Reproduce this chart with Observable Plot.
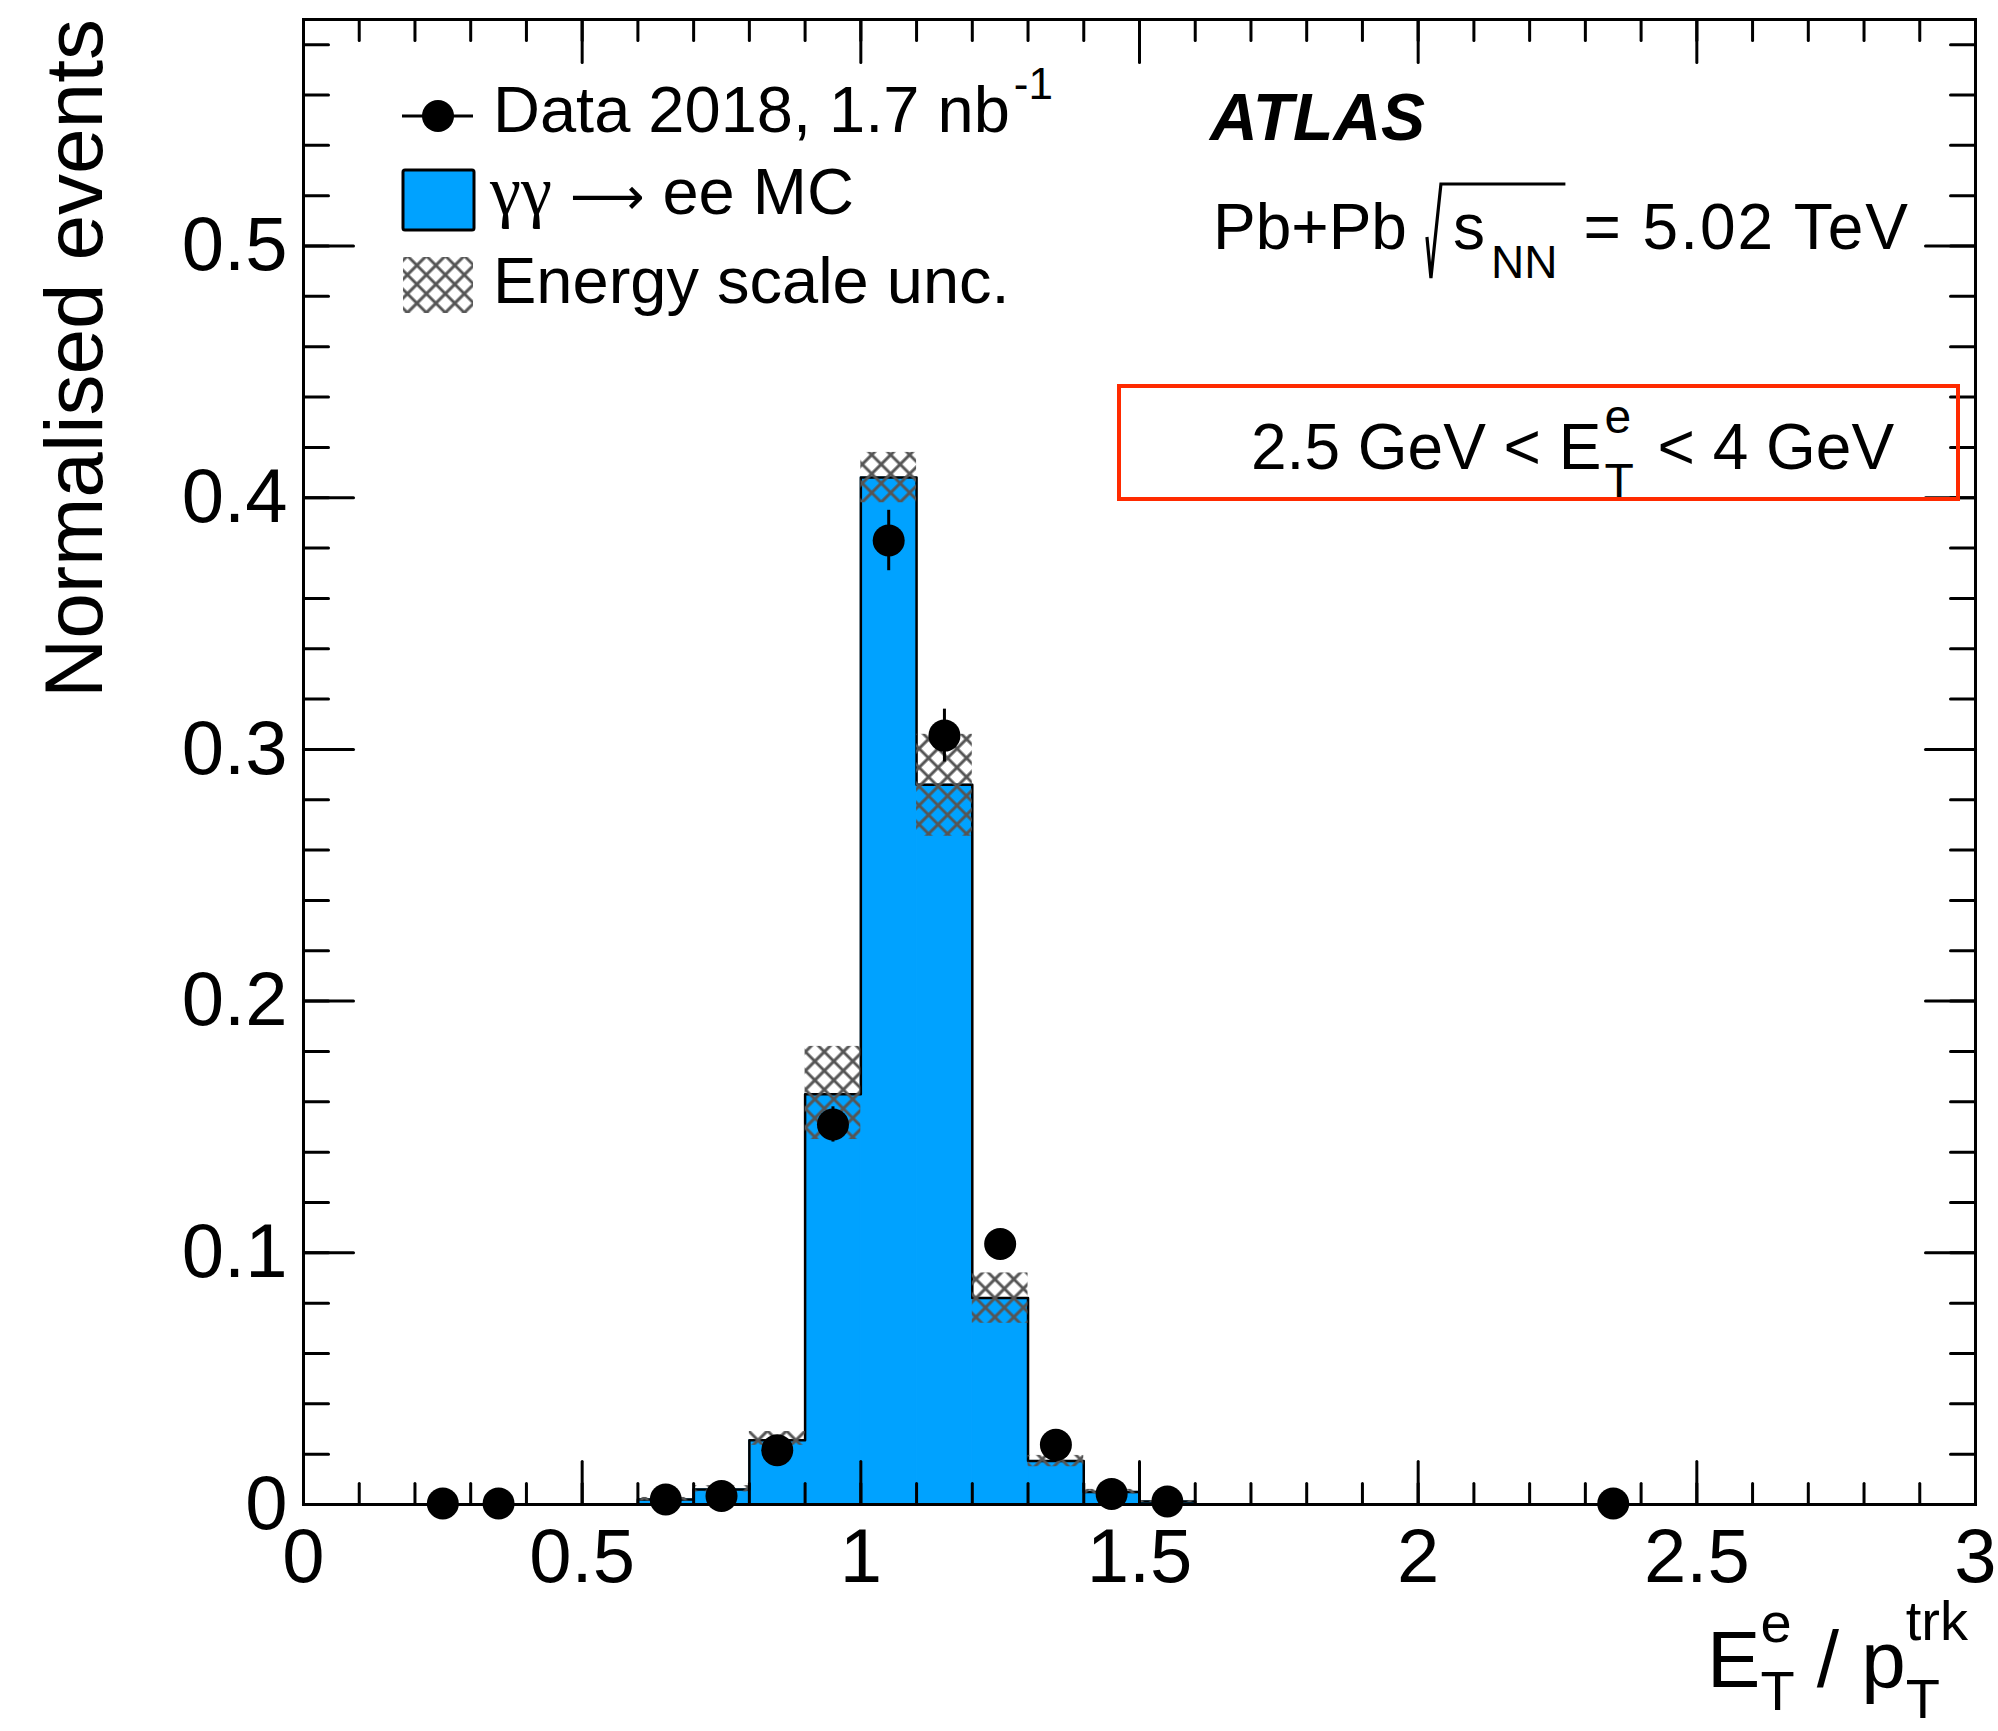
<!DOCTYPE html>
<html>
<head>
<meta charset="utf-8">
<script src="https://cdn.jsdelivr.net/npm/d3@7"></script>
<script src="https://cdn.jsdelivr.net/npm/@observablehq/plot@0.6"></script>
<style>
  html, body { margin: 0; padding: 0; background: #fff; }
  svg { display: block; }
  .ann text { white-space: pre; }
</style>
</head>
<body>
<script>
// ---------------- data ----------------
const binLow    = [0.6, 0.7, 0.8, 0.9, 1.0, 1.1, 1.2, 1.3, 1.4, 1.5];
const binWidth  = 0.1;
const mcValues  = [0.002, 0.006, 0.0255, 0.163, 0.408, 0.286, 0.082, 0.0173, 0.005, 0.0012];
const uncLow    = [0.0014, 0.005, 0.0235, 0.145, 0.398, 0.2655, 0.072, 0.015, 0.0042, 0.0008];
const uncHigh   = [0.0028, 0.0075, 0.029, 0.182, 0.418, 0.306, 0.092, 0.0195, 0.006, 0.0016];

const dataX   = [0.25, 0.35, 0.65, 0.75, 0.85, 0.95, 1.05, 1.15, 1.25, 1.35, 1.45, 1.55, 2.35];
const dataY   = [0.0004, 0.0004, 0.002, 0.0034, 0.0216, 0.151, 0.383, 0.3055, 0.1035, 0.0237, 0.0042, 0.0012, 0.0004];
const dataErr = [0.0004, 0.0004, 0.001, 0.0015, 0.003, 0.007, 0.012, 0.0105, 0.0055, 0.0025, 0.001, 0.0006, 0.0004];

const xMajorTicks = [0, 0.5, 1, 1.5, 2, 2.5, 3];
const xTickLabels = ["0", "0.5", "1", "1.5", "2", "2.5", "3"];
const yMajorTicks = [0, 0.1, 0.2, 0.3, 0.4, 0.5];
const yTickLabels = ["0", "0.1", "0.2", "0.3", "0.4", "0.5"];
const xMinorTicks = d3.range(0.1, 2.95, 0.1);
const yMinorTicks = d3.range(0.02, 0.589, 0.02);

const blue = "#00a2ff";
const font = "'Liberation Sans', Arial, Helvetica, sans-serif";
const serif = "'Liberation Serif', 'Times New Roman', serif";

// ---------------- tables built from the arrays ----------------
const mcTable = binLow.map((lo, i) => ({lo, hi: lo + binWidth, v: mcValues[i], uLo: uncLow[i], uHi: uncHigh[i]}));
const outline = [{x: 0, y: 0}, {x: binLow[0], y: 0}];
mcTable.forEach(d => { outline.push({x: d.lo, y: d.v}, {x: d.hi, y: d.v}); });
outline.push({x: mcTable[mcTable.length - 1].hi, y: 0}, {x: 3, y: 0});
const dataTable = dataX.map((x, i) => ({x, y: dataY[i], e: dataErr[i]}));

const tickShape = {draw(ctx, l) { ctx.moveTo(0, 0); ctx.lineTo(0, -l); }};
const tickOpts = {anchor: "start", shape: tickShape, stroke: "black", strokeWidth: 3};

const chart = Plot.plot({
  width: 1998,
  height: 1731,
  marginLeft: 303,
  marginRight: 23,
  marginTop: 19,
  marginBottom: 227,
  style: {fontFamily: font, background: "#fff", color: "black"},
  x: {domain: [0, 3], axis: null},
  y: {domain: [0, 0.59], axis: null},
  marks: [
    Plot.rect(mcTable, {x1: "lo", x2: "hi", y1: 0, y2: "v", fill: blue, stroke: blue, strokeWidth: 1}),
    Plot.line(outline, {x: "x", y: "y", stroke: "black", strokeWidth: 2.5}),
    Plot.rect(mcTable, {x1: "lo", x2: "hi", y1: "uLo", y2: "uHi", fill: "url(#hatch)"}),
    Plot.frame({stroke: "black", strokeWidth: 3}),
    // ticks, all four sides, pointing inward
    Plot.vector(yMajorTicks, {y: d => d, frameAnchor: "left", rotate: 90, length: 50, ...tickOpts}),
    Plot.vector(yMinorTicks, {y: d => d, frameAnchor: "left", rotate: 90, length: 25, ...tickOpts}),
    Plot.vector(yMajorTicks, {y: d => d, frameAnchor: "right", rotate: -90, length: 50, ...tickOpts}),
    Plot.vector(yMinorTicks, {y: d => d, frameAnchor: "right", rotate: -90, length: 25, ...tickOpts}),
    Plot.vector(xMajorTicks, {x: d => d, frameAnchor: "bottom", rotate: 0, length: 43, ...tickOpts}),
    Plot.vector(xMinorTicks, {x: d => d, frameAnchor: "bottom", rotate: 0, length: 21, ...tickOpts}),
    Plot.vector(xMajorTicks, {x: d => d, frameAnchor: "top", rotate: 180, length: 43, ...tickOpts}),
    Plot.vector(xMinorTicks, {x: d => d, frameAnchor: "top", rotate: 180, length: 21, ...tickOpts}),
    // tick labels
    Plot.text(yMajorTicks, {y: d => d, text: (d, i) => yTickLabels[i], frameAnchor: "left", textAnchor: "end", dx: -16, fontSize: 76}),
    Plot.text(xMajorTicks, {x: d => d, text: (d, i) => xTickLabels[i], frameAnchor: "bottom", lineAnchor: "middle", dy: 53, fontSize: 76}),
    // data
    Plot.ruleX(dataTable, {x: "x", y1: d => d.y - d.e, y2: d => d.y + d.e, stroke: "black", strokeWidth: 3}),
    Plot.dot(dataTable, {x: "x", y: "y", r: 16, fill: "black", stroke: "none"})
  ]
});
document.body.append(chart);

// ---------------- defs: hatch pattern ----------------
const svg = d3.select(chart);
const defs = svg.insert("defs", ":first-child");
const pat = defs.append("pattern")
  .attr("id", "hatch")
  .attr("patternUnits", "userSpaceOnUse")
  .attr("width", 13.4).attr("height", 13.4)
  .attr("patternTransform", "rotate(45)");
pat.append("path").attr("d", "M0,0H13.4M0,13.4H13.4").attr("stroke", "#555").attr("stroke-width", 3);
pat.append("path").attr("d", "M0,0V13.4M13.4,0V13.4").attr("stroke", "#555").attr("stroke-width", 3);

// ---------------- rich text helper ----------------
function richText(parent, x, y, segs, base, anchor) {
  const g = parent.append("g");
  let cursor = 0, prevStart = 0, prevW = 0;
  for (const s of segs) {
    if (s.gap !== undefined) { cursor += s.gap; continue; }
    const t = g.append("text")
      .attr("xml:space", "preserve")
      .attr("text-anchor", "start")
      .attr("y", y + (s.dy || 0))
      .attr("font-size", s.size || base)
      .attr("font-family", s.family || font)
      .attr("fill", "black")
      .text(s.t);
    if (s.weight) t.attr("font-weight", s.weight);
    if (s.style) t.attr("font-style", s.style);
    if (s.spacing) t.attr("letter-spacing", s.spacing);
    const start = s.stack ? prevStart : cursor;
    t.attr("x", x + start);
    const w = t.node().getComputedTextLength();
    s.start = start; s.w = w; s.node = t.node();
    if (s.stack) cursor = prevStart + Math.max(prevW, w);
    else { prevStart = start; prevW = w; cursor = start + w; }
  }
  if (anchor === "end") g.attr("transform", `translate(${-cursor},0)`);
  return {g, width: cursor, segs};
}

const ann = svg.append("g").attr("class", "ann").attr("text-anchor", "start");

// y-axis title
ann.append("text")
  .attr("transform", "translate(102,19) rotate(-90)")
  .attr("text-anchor", "end")
  .attr("font-size", 82)
  .attr("font-family", font)
  .text("Normalised events");

// x-axis title
richText(ann, 1968, 1687, [
  {t: "E"},
  {t: "e", size: 56, dy: -45},
  {t: "T", size: 56, dy: 23, stack: true},
  {t: " / "},
  {t: "p"},
  {t: "trk", size: 56, dy: -47},
  {t: "T", size: 56, dy: 31, stack: true}
], 80, "end");

// legend
ann.append("line").attr("x1", 402).attr("x2", 473).attr("y1", 116).attr("y2", 116).attr("stroke", "black").attr("stroke-width", 3);
ann.append("circle").attr("cx", 438).attr("cy", 116).attr("r", 16).attr("fill", "black");
richText(ann, 493, 132, [
  {t: "Data 2018, 1.7 nb"},
  {gap: 4},
  {t: "-1", size: 44, dy: -33}
], 65);

ann.append("rect").attr("x", 403).attr("y", 170).attr("width", 71).attr("height", 60).attr("rx", 2)
  .attr("fill", blue).attr("stroke", "black").attr("stroke-width", 3);
richText(ann, 490, 214, [
  {t: "γγ", family: serif, size: 70},
  {gap: 18},
  {t: "⟶", family: "'DejaVu Sans', sans-serif", size: 52},
  {gap: 18},
  {t: "ee MC"}
], 65);

ann.append("rect").attr("x", 403).attr("y", 257).attr("width", 70).attr("height", 56).attr("fill", "url(#hatch)");
richText(ann, 493, 303, [{t: "Energy scale unc."}], 65);

// ATLAS label
richText(ann, 1210, 140, [{t: "ATLAS", weight: "bold", style: "italic"}], 66);

// Pb+Pb sqrt(sNN)
const pb = richText(ann, 1213, 249, [
  {t: "Pb+Pb"},
  {gap: 46},
  {t: "s"},
  {gap: 6},
  {t: "NN", size: 46, dy: 29},
  {gap: 26},
  {t: "= 5.02 TeV", spacing: 2}
], 64);
{
  const s0 = pb.segs[0], sNN = pb.segs[4];
  const r0 = 1213 + s0.w + 20;
  const ovEnd = 1213 + sNN.start + sNN.w + 8;
  ann.append("path")
    .attr("d", `M${r0},${249 - 12}L${r0 + 4},${249 + 29}L${r0 + 14},${249 - 65}L${ovEnd},${249 - 65}`)
    .attr("fill", "none").attr("stroke", "black").attr("stroke-width", 3.2).attr("stroke-linejoin", "miter");
}

// red box with ET range
ann.append("rect").attr("x", 1119).attr("y", 386).attr("width", 839).attr("height", 113)
  .attr("fill", "none").attr("stroke", "#ff2a00").attr("stroke-width", 4);
richText(ann, 1251, 469, [
  {t: "2.5 GeV < E"},
  {gap: 3},
  {t: "e", size: 48, dy: -36},
  {t: "T", size: 48, dy: 28, stack: true},
  {gap: 6},
  {t: " < 4 GeV"}
], 64);
</script>
</body>
</html>
